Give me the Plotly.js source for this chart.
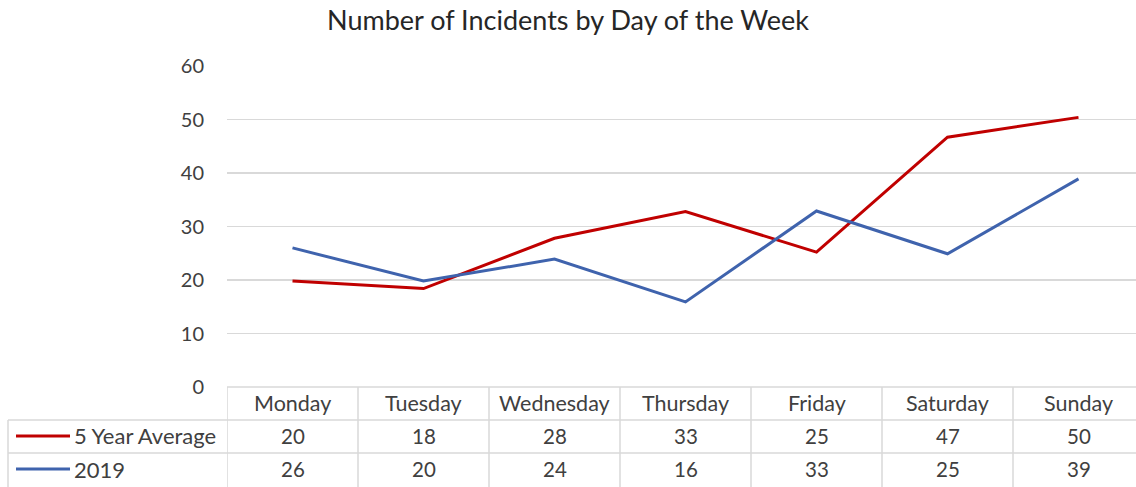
<!DOCTYPE html>
<html>
<head>
<meta charset="utf-8">
<script src="https://cdn.plot.ly/plotly-3.0.1.min.js"></script>
<style>html,body{margin:0;padding:0;background:#fff;}#chart{width:1136px;height:487px;}</style>
</head>
<body>
<div id="chart"></div>
<script>
var days = ["Monday","Tuesday","Wednesday","Thursday","Friday","Saturday","Sunday"];
var avg5 = [19.8, 18.4, 27.8, 32.8, 25.2, 46.7, 50.4];
var y2019 = [26, 19.8, 23.9, 15.9, 32.9, 24.9, 38.9];
var avgLabels = ["20","18","28","33","25","47","50"];
var y2019Labels = ["26","20","24","16","33","25","39"];
var seriesNames = ["5 Year Average", "2019"];
var colors = ["#c00000", "#3f63ad"];
var yTicks = [0,10,20,30,40,50,60];

var W = 1136, H = 487;
var mL = 227, mR = 0, mT = 66, mB = 100;
var plotH = H - mT - mB;
function pyAbs(yPix){ return (H - mB - yPix) / plotH; }
function pxAbs(xPix){ return (xPix - mL) / (W - mL - mR); }

var gridC = "#d9d9d9";
var txtC = "#404040";
var fontF = "Lato, 'Open Sans', sans-serif";

var idx = days.map(function(d,i){return i;});
var traces = [
  {x: idx, y: avg5, type: "scatter", mode: "lines", name: seriesNames[0], line: {color: colors[0], width: 3}, hoverinfo: "skip"},
  {x: idx, y: y2019, type: "scatter", mode: "lines", name: seriesNames[1], line: {color: colors[1], width: 3}, hoverinfo: "skip"}
];

var shapes = [];
var annotations = [];
var rowTop = pyAbs(387), row1 = pyAbs(420), row2 = pyAbs(453), rowBot = pyAbs(487);
shapes.push({type:"line", xref:"x", yref:"paper", x0:-0.5, x1:6.5, y0:rowTop, y1:rowTop, line:{color:gridC, width:1.5}});
shapes.push({type:"line", xref:"paper", yref:"paper", x0:pxAbs(8), x1:1.02, y0:row1, y1:row1, line:{color:gridC, width:1.5}});
shapes.push({type:"line", xref:"paper", yref:"paper", x0:pxAbs(8), x1:1.02, y0:row2, y1:row2, line:{color:gridC, width:1.5}});
shapes.push({type:"line", xref:"paper", yref:"paper", x0:pxAbs(8), x1:pxAbs(8), y0:row1, y1:rowBot, line:{color:gridC, width:1.5}});
for (var i = 0; i <= days.length; i++) {
  shapes.push({type:"line", xref:"x", yref:"paper", x0:i-0.5, x1:i-0.5, y0:rowTop, y1:rowBot, line:{color:gridC, width:1.5}});
}
var rowMid = [pyAbs(436), pyAbs(469)];
for (var s = 0; s < 2; s++) {
  shapes.push({type:"line", xref:"paper", yref:"paper", x0:pxAbs(16), x1:pxAbs(70), y0:rowMid[s], y1:rowMid[s], line:{color:colors[s], width:3}});
  annotations.push({xref:"paper", yref:"paper", x:pxAbs(72), y:rowMid[s], text:seriesNames[s], showarrow:false, xanchor:"left", yanchor:"middle", font:{family:fontF, size:22, color:txtC}});
}
var hdrMid = pyAbs(403);
days.forEach(function(d, i){
  annotations.push({xref:"x", yref:"paper", x:i, y:hdrMid, text:d, showarrow:false, xanchor:"center", yanchor:"middle", font:{family:fontF, size:21.5, color:txtC}});
  annotations.push({xref:"x", yref:"paper", x:i, y:rowMid[0], text:avgLabels[i], showarrow:false, xanchor:"center", yanchor:"middle", font:{family:fontF, size:20.5, color:txtC}});
  annotations.push({xref:"x", yref:"paper", x:i, y:rowMid[1], text:y2019Labels[i], showarrow:false, xanchor:"center", yanchor:"middle", font:{family:fontF, size:20.5, color:txtC}});
});

var layout = {
  width: W, height: H,
  margin: {l: mL, r: mR, t: mT, b: mB},
  paper_bgcolor: "#fff", plot_bgcolor: "#fff",
  showlegend: false,
  title: {text: "Number of Incidents by Day of the Week", x: 0.5, xanchor: "center", y: 1 - 21/H, yanchor: "middle", font: {family: fontF, size: 27, color: "#262626"}},
  xaxis: {range: [-0.5, -0.5 + (W - mL) / 131], showticklabels: false, showgrid: false, zeroline: false, showline: false, ticks: "", fixedrange: true},
  yaxis: {range: [0, 60], tickvals: yTicks, ticktext: yTicks.map(String), showgrid: true, gridcolor: gridC, gridwidth: 1.5, zeroline: false, showline: false, ticks: "outside", ticklen: 18, tickcolor: "rgba(0,0,0,0)", tickfont: {family: fontF, size: 20, color: txtC}, fixedrange: true},
  shapes: shapes,
  annotations: annotations
};
Plotly.newPlot("chart", traces, layout, {staticPlot: true, displayModeBar: false});
</script>
</body>
</html>
